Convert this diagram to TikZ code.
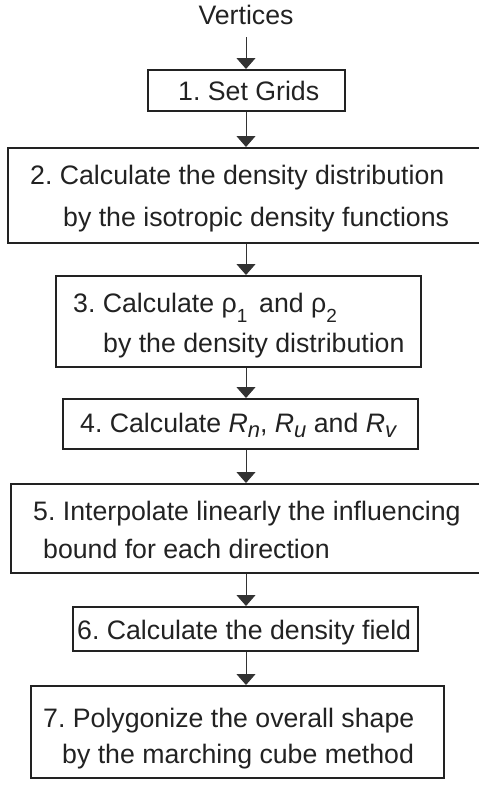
\documentclass[tikz,border=0pt]{standalone}
\usepackage{fontspec}
\setmainfont{Liberation Sans}
\usetikzlibrary{arrows.meta}
\frenchspacing
\definecolor{ink}{HTML}{222222}
\definecolor{lineink}{HTML}{333333}
\newcommand{\sbl}[1]{\raisebox{-10pt}{\fontsize{19}{20}\selectfont #1}}
\newcommand{\sbr}[1]{\raisebox{-5pt}{\fontsize{22}{24}\selectfont\itshape #1}}
\begin{document}
\begin{tikzpicture}[x=1pt,y=-1pt,
  every node/.style={font=\fontsize{26.7}{32}\selectfont\frenchspacing, text=ink},
  stepbox/.style={draw=ink, line width=2.2pt, inner sep=0pt, anchor=north west},
  txt/.style={inner sep=0pt, anchor=base west},
  arr/.style={draw=lineink, line width=1pt, -{Triangle[width=19pt,length=11pt]}}]
\useasboundingbox (0,0) rectangle (479,785);
\clip (0,0) rectangle (479,785);
% boxes
\node[stepbox, minimum width=197pt, minimum height=41pt] (b1) at (147,69) {};
\node[stepbox, minimum width=483pt, minimum height=95pt] (b2) at (7,147) {};
\node[stepbox, minimum width=365pt, minimum height=91pt] (b3) at (55,275) {};
\node[stepbox, minimum width=355pt, minimum height=50pt] (b4) at (62,398) {};
\node[stepbox, minimum width=480pt, minimum height=89pt] (b5) at (10,483) {};
\node[stepbox, minimum width=345pt, minimum height=44pt] (b6) at (72,606) {};
\node[stepbox, minimum width=413pt, minimum height=92pt] (b7) at (30,685) {};
% texts
\node[inner sep=0pt, anchor=base] (v) at (246,24) {Vertices};
\node[txt] (t1) at (178,100) {1. Set Grids};
\node[txt] (t2a) at (30,184) {2. Calculate the density distribution};
\node[txt] (t2b) at (63,226) {by the isotropic density functions};
\node[txt] (t3a) at (73,312) {3. Calculate ρ\sbl{1}\, and ρ\sbl{2}};
\node[txt] (t3b) at (103,352) {by the density distribution};
\node[txt] (t4) at (80,432) {4. Calculate \textit{R}\sbr{n}, \textit{R}\sbr{u} and \textit{R}\sbr{v}};
\node[txt] (t5a) at (33,520) {5. Interpolate linearly the influencing};
\node[txt] (t5b) at (43,558) {bound for each direction};
\node[txt] (t6) at (77,639) {6. Calculate the density field};
\node[txt] (t7a) at (43,727) {7. Polygonize the overall shape};
\node[txt] (t7b) at (62,763) {by the marching cube method};
% connectors
\draw[arr, shorten <=13pt] (v.south) -- (v.south |- b1.north);
\draw[arr] (v.south |- b1.south) -- (v.south |- b2.north);
\draw[arr] (v.south |- b2.south) -- (v.south |- b3.north);
\draw[arr] (v.south |- b3.south) -- (v.south |- b4.north);
\draw[arr] (v.south |- b4.south) -- (v.south |- b5.north);
\draw[arr] (v.south |- b5.south) -- (v.south |- b6.north);
\draw[arr] (v.south |- b6.south) -- (v.south |- b7.north);
\end{tikzpicture}
\end{document}
